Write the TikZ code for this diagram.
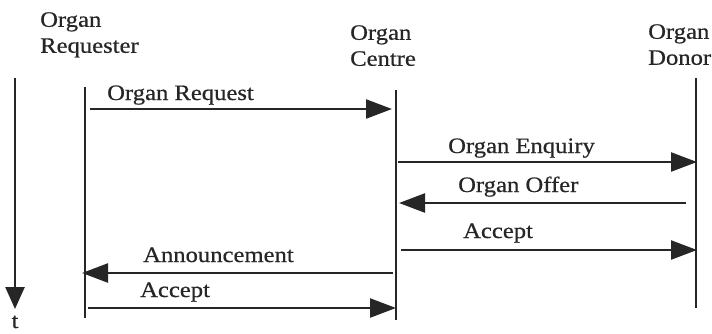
\documentclass[tikz,border=0pt]{standalone}
\usepackage{fontspec}
\setmainfont[FakeStretch=1.12,FakeBold=0.6]{Liberation Serif}
\usetikzlibrary{arrows.meta}
\definecolor{ink}{HTML}{262626}
\begin{document}
\begin{tikzpicture}[x=1pt,y=-1pt,
  lifeline/.style={line width=2.6pt, draw=ink},
  msg/.style={line width=2.4pt, draw=ink, -{Triangle[length=26pt,width=19pt]}},
  timeaxis/.style={line width=2.6pt, draw=ink, -{Triangle[length=22pt,width=19pt]}},
  lbl/.style={anchor=base west, inner sep=0pt, text=ink, font=\fontsize{22}{26}\selectfont},
  hdr/.style={anchor=north west, inner sep=0pt, align=left, text=ink, font=\fontsize{22}{26}\selectfont}]
\path[use as bounding box] (0,0) rectangle (712,333);

% participants
\node[hdr] (hq) at (40,12) {Organ\\Requester};
\node[hdr] (hc) at (350,25) {Organ\\Centre};
\node[hdr] (hd) at (648,24) {Organ\\Donor};

% lifelines
\coordinate (rq-top) at (85,87);  \coordinate (rq-bot) at (85,318);
\coordinate (ce-top) at (396,90); \coordinate (ce-bot) at (396,320);
\coordinate (do-top) at (696,78); \coordinate (do-bot) at (696,308);
\draw[lifeline] (rq-top) -- (rq-bot);
\draw[lifeline] (ce-top) -- (ce-bot);
\draw[lifeline] (do-top) -- (do-bot);

% time axis
\coordinate (t-top) at (15,78); \coordinate (t-end) at (15,309);
\draw[timeaxis] (t-top) -- (t-end);
\node[lbl, anchor=base] (tl) at (15,328) {t};

% message end points
\coordinate (m1s) at (90,109);  \coordinate (m1e) at (392,109);
\coordinate (m2s) at (398,162); \coordinate (m2e) at (697,162);
\coordinate (m3s) at (686,203); \coordinate (m3e) at (399,203);
\coordinate (m4s) at (401,250); \coordinate (m4e) at (697,250);
\coordinate (m5s) at (393,273); \coordinate (m5e) at (82,273);
\coordinate (m6s) at (88,308);  \coordinate (m6e) at (396,308);

% messages
\draw[msg] (m1s) -- (m1e);
\draw[msg] (m2s) -- (m2e);
\draw[msg] (m3s) -- (m3e);
\draw[msg] (m4s) -- (m4e);
\draw[msg] (m5s) -- (m5e);
\draw[msg] (m6s) -- (m6e);

% message labels
\node[lbl] (l1) at (107,100) {Organ Request};
\node[lbl] (l2) at (448,153) {Organ Enquiry};
\node[lbl] (l3) at (458,192) {Organ Offer};
\node[lbl] (l4) at (463,238) {Accept};
\node[lbl] (l5) at (143,262) {Announcement};
\node[lbl] (l6) at (140,297) {Accept};
\end{tikzpicture}
\end{document}
